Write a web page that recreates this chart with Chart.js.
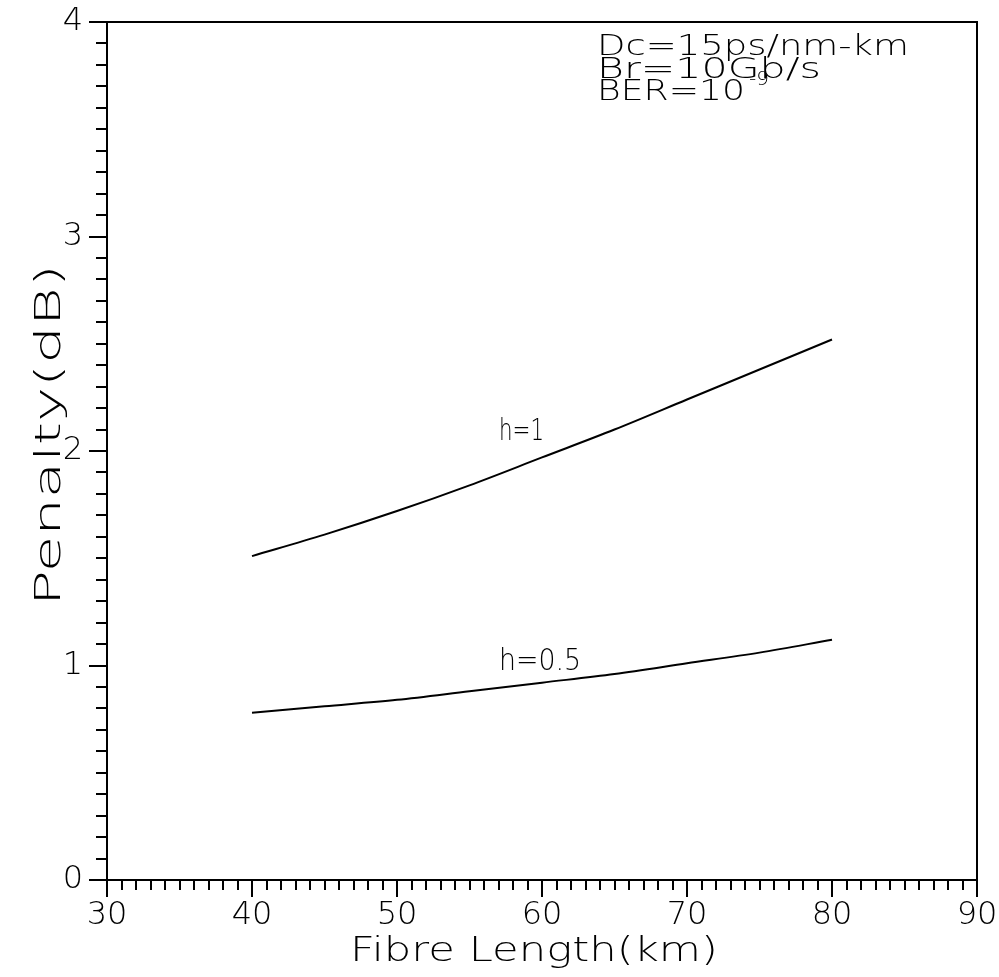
<!DOCTYPE html>
<html>
<head>
<meta charset="utf-8">
<script src="https://cdn.jsdelivr.net/npm/chart.js@4.4.1/dist/chart.umd.min.js"></script>
<style>
    html, body { margin: 0; padding: 0; background: #ffffff; }
    #chart { display: block; }
</style>
</head>
<body>
<canvas id="chart" width="999" height="977"></canvas>
<script>
"use strict";

//region Data
const fibreLength = [40, 45, 50, 55, 60, 65, 70, 75, 80];
const penaltyH1 = [1.51, 1.61, 1.72, 1.84, 1.97, 2.10, 2.24, 2.38, 2.52];
const penaltyH05 = [0.78, 0.81, 0.84, 0.88, 0.92, 0.96, 1.01, 1.06, 1.12];
const xLabels = [30, 40, 50, 60, 70, 80, 90];
const yLabels = [0, 1, 2, 3, 4];
const seriesNames = ["h=1", "h=0.5"];
//endregion

const FAMILY = "'DejaVu Sans', 'Liberation Sans', sans-serif";
const THIN = "200 {s}px " + FAMILY;

function toPoints(xs, ys) {
    let pts = [];
    for (let i = 0; i < xs.length; i++) {
        pts.push({x: xs[i], y: ys[i]});
    }
    return pts;
}

// draws text stretched to a given width (the plotter font is wide)
function wideText(ctx, text, x, y, width, size, rot) {
    ctx.save();
    ctx.font = THIN.replace("{s}", size);
    let w = ctx.measureText(text).width;
    ctx.translate(x, y);
    if (rot) ctx.rotate(rot);
    ctx.scale(width / w, 1);
    ctx.fillStyle = "#000";
    ctx.textAlign = "left";
    ctx.textBaseline = "alphabetic";
    ctx.fillText(text, 0, 0);
    ctx.restore();
}

//region Plugin
const frameAndText = {
    id: "frameAndText",
    afterDraw(chart) {
        let ctx = chart.ctx;
        let area = chart.chartArea;
        let xs = chart.scales.x;
        let ys = chart.scales.y;

        ctx.save();
        ctx.strokeStyle = "#000";
        ctx.lineWidth = 2;
        ctx.strokeRect(area.left, area.top, area.right - area.left, area.bottom - area.top);

        // x ticks: minor every 1 km, major every 10
        ctx.beginPath();
        for (let v = xLabels[0]; v <= xLabels[xLabels.length - 1]; v++) {
            let px = Math.round(xs.getPixelForValue(v));
            let len = (v % 10 === 0) ? 17 : 10;
            ctx.moveTo(px, area.bottom);
            ctx.lineTo(px, area.bottom + len);
        }
        // y ticks: minor every 0.1, major every 1
        for (let i = 0; i <= 40; i++) {
            let py = Math.round(ys.getPixelForValue(i / 10));
            let len = (i % 10 === 0) ? 18 : 11;
            ctx.moveTo(area.left, py);
            ctx.lineTo(area.left - len, py);
        }
        ctx.stroke();
        ctx.restore();

        // axis titles
        wideText(ctx, "Fibre Length(km)", 350, 961, 368, 34, 0);
        wideText(ctx, "Penalty(dB)", 60, 606, 342, 35, -Math.PI / 2);

        // notes
        wideText(ctx, "Dc=15ps/nm-km", 597, 55, 312, 29, 0);
        wideText(ctx, "Br=10Gb/s", 597, 78, 224, 29, 0);
        wideText(ctx, "BER=10", 597, 100, 148, 29, 0);
        wideText(ctx, "-9", 749, 85, 20, 20, 0);

        // curve labels
        wideText(ctx, seriesNames[0], 499, 440, 45, 30, 0);
        wideText(ctx, seriesNames[1], 499, 670, 82, 30, 0);
    }
};
//endregion

function noPadX(scale) {
    scale.height = 97;
    scale.paddingLeft = 0;
    scale.paddingRight = 0;
}

function noPadY(scale) {
    scale.width = 107;
    scale.paddingTop = 0;
    scale.paddingBottom = 0;
}

//region Main
let chart = new Chart(document.getElementById("chart"), {
    type: "line",
    data: {
        datasets: [
            {
                label: seriesNames[0],
                data: toPoints(fibreLength, penaltyH1),
                borderColor: "#000",
                borderWidth: 2,
                pointRadius: 0,
                cubicInterpolationMode: "monotone",
                fill: false
            },
            {
                label: seriesNames[1],
                data: toPoints(fibreLength, penaltyH05),
                borderColor: "#000",
                borderWidth: 2,
                pointRadius: 0,
                cubicInterpolationMode: "monotone",
                fill: false
            }
        ]
    },
    options: {
        responsive: false,
        devicePixelRatio: 1,
        animation: false,
        layout: {padding: {left: 0, right: 22, top: 22, bottom: 0}},
        plugins: {
            legend: {display: false},
            tooltip: {enabled: false}
        },
        scales: {
            x: {
                type: "linear",
                min: xLabels[0],
                max: xLabels[xLabels.length - 1],
                afterFit: noPadX,
                ticks: {
                    stepSize: 10,
                    padding: 16,
                    color: "#000",
                    font: {family: FAMILY, size: 32, weight: 200},
                    callback: function (v) { return xLabels.indexOf(v) >= 0 ? String(v) : ""; }
                },
                grid: {display: true, drawOnChartArea: false, drawTicks: false},
                border: {display: false}
            },
            y: {
                type: "linear",
                min: yLabels[0],
                max: yLabels[yLabels.length - 1],
                afterFit: noPadY,
                ticks: {
                    stepSize: 1,
                    padding: 24,
                    color: "#000",
                    font: {family: FAMILY, size: 32, weight: 200},
                    callback: function (v) { return yLabels.indexOf(v) >= 0 ? String(v) : ""; }
                },
                grid: {display: true, drawOnChartArea: false, drawTicks: false},
                border: {display: false}
            }
        }
    },
    plugins: [frameAndText]
});
//endregion
</script>
</body>
</html>
